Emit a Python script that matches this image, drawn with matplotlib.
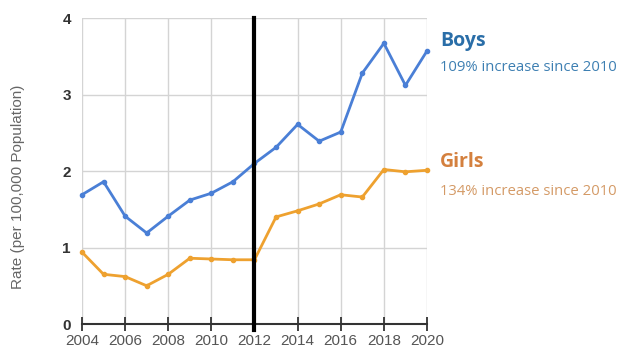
import matplotlib
matplotlib.use("Agg")
import matplotlib.pyplot as plt

years = list(range(2004, 2021))
boys = [1.69, 1.86, 1.41, 1.19, 1.41, 1.62, 1.71, 1.86, 2.10, 2.31, 2.61, 2.39, 2.51, 3.28, 3.67, 3.12, 3.57]
girls = [0.94, 0.65, 0.62, 0.50, 0.65, 0.86, 0.85, 0.84, 0.84, 1.40, 1.48, 1.57, 1.69, 1.66, 2.02, 1.99, 2.01]
x_ticks = list(range(2004, 2021, 2))
y_ticks = [0, 1, 2, 3, 4]
marker_year = 2012

plt.rcParams['font.family'] = ['Liberation Sans', 'DejaVu Sans']

fig = plt.figure(figsize=(6.22, 3.54), dpi=100)
ax = fig.add_axes([0.1318, 0.0847, 0.5547, 0.8643])

boy_color = '#4a7fd6'
girl_color = '#eea12f'

ax.plot(years, boys, color=boy_color, lw=2.0, marker='o', ms=3, zorder=3, clip_on=False)
ax.plot(years, girls, color=girl_color, lw=2.0, marker='o', ms=3, zorder=3, clip_on=False)

ax.set_xlim(2004, 2020)
ax.set_ylim(0, 4)
ax.set_xticks(x_ticks)
ax.set_yticks(y_ticks)
ax.grid(True, color='#d4d4d4', lw=1.0)
ax.set_axisbelow(True)

for side in ['top', 'right', 'left']:
    ax.spines[side].set_visible(False)
ax.spines['bottom'].set_color('#333333')
ax.spines['bottom'].set_linewidth(1.5)

ax.tick_params(axis='x', direction='inout', length=10, width=1.3, color='#333333',
               labelsize=11, labelcolor='#555555', pad=2)
ax.tick_params(axis='y', length=0, labelsize=11, labelcolor='#333333', pad=8)
for lbl in ax.get_yticklabels():
    lbl.set_fontweight('bold')

# policy change marker
ax.axvline(marker_year, ymin=-0.02, ymax=1.0, color='black', lw=3, zorder=4, clip_on=False)

ax.set_ylabel('Rate (per 100,000 Population)', color='#666666', fontsize=11)
ax.yaxis.set_label_coords(-0.165, 0.448)

fig.text(0.707, 0.885, 'Boys', color='#2a6ea8', fontsize=14, fontweight='bold',
         family='Open Sans', va='center')
fig.text(0.707, 0.810, '109% increase since 2010', color='#3d7fb2', fontsize=10.7,
         family='Open Sans', va='center')
fig.text(0.707, 0.542, 'Girls', color='#d4803e', fontsize=14, fontweight='bold',
         family='Open Sans', va='center')
fig.text(0.707, 0.458, '134% increase since 2010', color='#d49a66', fontsize=10.7,
         family='Open Sans', va='center')

fig.savefig('out.png', dpi=100)
